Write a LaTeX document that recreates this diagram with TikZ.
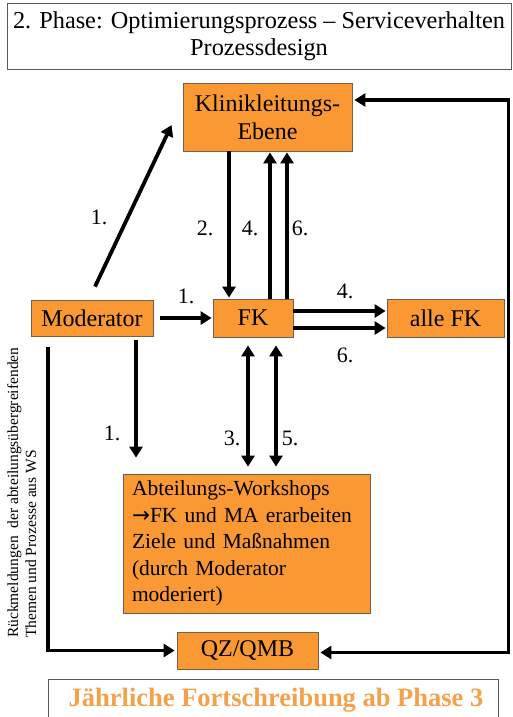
\documentclass[tikz,border=0pt]{standalone}
\usepackage{fontspec}
\setmainfont{Liberation Serif}
\newfontfamily\arrowfont{DejaVu Sans}
\usetikzlibrary{arrows.meta,calc}
\definecolor{boxorange}{RGB}{250,152,52}
\definecolor{boxedge}{RGB}{115,95,75}
\definecolor{txtorange}{RGB}{245,160,75}
\definecolor{frame}{RGB}{90,90,90}
\tikzset{
  obox/.style={draw=boxedge, line width=0.8pt, fill=boxorange, text=black, inner sep=0pt, font=\fontsize{24}{28}\selectfont, align=center},
  arr/.style={line width=3.8pt, -{Triangle[length=11pt,width=13pt]}},
  darr/.style={line width=3.8pt, {Triangle[length=11pt,width=13pt]}-{Triangle[length=11pt,width=13pt]}},
  lbl/.style={font=\fontsize{22}{24}\selectfont, inner sep=0pt}
}
\begin{document}
\begin{tikzpicture}[x=1pt,y=-1pt]
\useasboundingbox (0,0) rectangle (513,717);
% title
\node[draw=frame, line width=0.8pt, minimum width=504pt, minimum height=66pt, inner sep=0pt, align=center, font=\fontsize{24.3}{26.5}\selectfont] (title) at (259,36) {2. Phase: Optimierungsprozess -- Serviceverhalten\\Prozessdesign};
% boxes
\node[obox, minimum width=169pt, minimum height=68pt] (klinik) at (267.5,117) {Klinikleitungs-\\Ebene};
\node[obox, minimum width=122pt, minimum height=36pt] (moderator) at (92,318) {Moderator};
\node[obox, minimum width=80pt, minimum height=38pt] (fk) at (253,318) {FK};
\node[obox, minimum width=117pt, minimum height=38pt] (allefk) at (445.5,318) {alle FK};
\node[obox, minimum width=247pt, minimum height=139pt, text width=229pt, inner xsep=9pt, align=left, font=\fontsize{21.5}{26.5}\selectfont] (workshop) at (246.5,543.5) {Abteilungs-Workshops\\{\arrowfont →}FK und MA erarbeiten\\Ziele und Maßnahmen\\(durch Moderator\\moderiert)};
\node[obox, minimum width=141pt, minimum height=37pt] (qz) at (247.5,650.5) {QZ/QMB};
% bottom box
\draw[frame, line width=0.8pt] (48,716.5) -- (48,679) -- (498,679) -- (498,716.5);
\node[font=\bfseries\fontsize{26.5}{28}\selectfont, text=txtorange, inner sep=0pt] (jahr) at (276,700) {Jährliche Fortschreibung ab Phase 3};
% rotated side text
\node[rotate=90, anchor=north west, inner sep=0pt, align=left, font=\fontsize{15.5}{18}\selectfont] (rueck) at (7,638) {Rückmeldungen\ \ der abteilungsübergreifenden\\Themen und Prozesse aus WS};
% arrows
\draw[arr] ([shift={(3pt,13pt)}]moderator.north) -- ([shift={(-11pt,-8pt)}]klinik.west);
\draw[arr] ([xshift=7pt]moderator.east) -- ([xshift=-1pt]fk.west);
\draw[arr] ([xshift=-38.5pt]klinik.south) -- ([shift={(-38.5pt,1pt)}]klinik.south |- fk.north);
\draw[arr] ([xshift=17pt]fk.north) -- ([shift={(17pt,-1pt)}]fk.north |- klinik.south);
\draw[arr] ([xshift=34pt]fk.north) -- ([shift={(34pt,-1pt)}]fk.north |- klinik.south);
\draw[arr] ([yshift=7pt]fk.east) -- ([shift={(-1pt,7pt)}]fk.east -| allefk.west);
\draw[arr] ([yshift=-10pt]fk.east) -- ([shift={(-1pt,-10pt)}]fk.east -| allefk.west);
\draw[darr] ([shift={(-5pt,-8pt)}]fk.south) -- ([shift={(-5pt,7pt)}]fk.south |- workshop.north);
\draw[darr] ([shift={(23pt,-8pt)}]fk.south) -- ([shift={(23pt,7pt)}]fk.south |- workshop.north);
\draw[arr] ([shift={(44pt,-4pt)}]moderator.south) -- ([shift={(44pt,16pt)}]moderator.south |- workshop.north);
\draw[arr] ([shift={(-44pt,-11pt)}]moderator.south) |- ([xshift=-2pt]qz.west);
\draw[darr] ([shift={(2pt,17pt)}]klinik.east) -| ([xshift=4pt]allefk.east) |- ([shift={(2pt,-2pt)}]qz.east);
% labels
\node[lbl] (l1) at (99,217) {1.};
\node[lbl] (l2) at (186,296) {1.};
\node[lbl] (l3) at (205,228) {2.};
\node[lbl] (l4) at (250,228) {4.};
\node[lbl] (l5) at (300,228) {6.};
\node[lbl] (l6) at (345,291) {4.};
\node[lbl] (l7) at (345,355) {6.};
\node[lbl] (l8) at (112,433) {1.};
\node[lbl] (l9) at (232,438) {3.};
\node[lbl] (l10) at (290,438) {5.};
\end{tikzpicture}
\end{document}
